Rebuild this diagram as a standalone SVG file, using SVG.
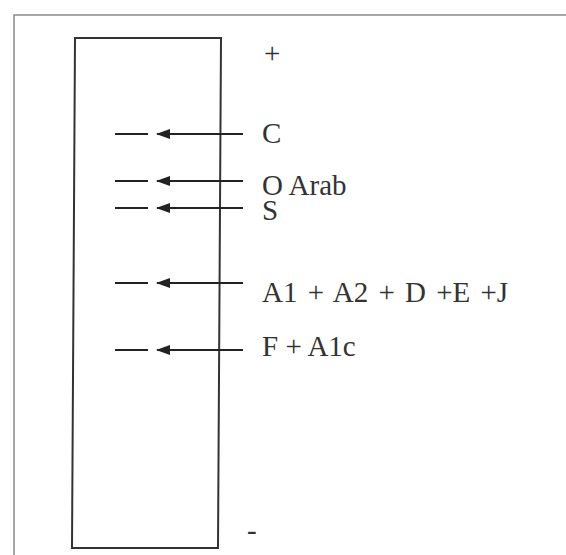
<svg xmlns="http://www.w3.org/2000/svg" width="566" height="555" viewBox="0 0 566 555">
<defs>
<style>
.frame{fill:none;stroke:#8a8a8a;stroke-width:1.5}
.box{fill:none;stroke:#333;stroke-width:2}
.ln{stroke:#222;stroke-width:2;fill:none}
.lbl{font-family:"Liberation Serif","Times New Roman",serif;font-size:29px;fill:#333}
</style>
<marker id="ah" viewBox="0 0 14 10" refX="13" refY="5" markerWidth="14" markerHeight="10" markerUnits="userSpaceOnUse" orient="auto">
<path d="M0,0 L14,5 L0,10 Z" fill="#222"/>
</marker>
</defs>
<rect width="566" height="555" fill="#fff"/>
<rect class="frame" x="14" y="15" width="600" height="600"/>
<g id="gel">
<polygon class="box" points="75,38 221,38 218,548 72,548"/>
</g>
<g id="connectors">
<line class="ln" x1="243" y1="134" x2="157" y2="134" marker-end="url(#ah)"/>
<line class="ln" x1="115" y1="134" x2="148" y2="134"/>
<line class="ln" x1="243" y1="181" x2="157" y2="181" marker-end="url(#ah)"/>
<line class="ln" x1="115" y1="181" x2="148" y2="181"/>
<line class="ln" x1="243" y1="208" x2="157" y2="208" marker-end="url(#ah)"/>
<line class="ln" x1="115" y1="208" x2="148" y2="208"/>
<line class="ln" x1="243" y1="283" x2="157" y2="283" marker-end="url(#ah)"/>
<line class="ln" x1="115" y1="283" x2="148" y2="283"/>
<line class="ln" x1="243" y1="350" x2="157" y2="350" marker-end="url(#ah)"/>
<line class="ln" x1="115" y1="350" x2="148" y2="350"/>
</g>
<g id="labels">
<text class="lbl" x="264" y="63" font-size="24">+</text>
<text class="lbl" x="262" y="143">C</text>
<text class="lbl" x="262" y="195">O Arab</text>
<text class="lbl" x="262" y="220">S</text>
<text class="lbl" x="262" y="302" word-spacing="3">A1 + A2 + D +E +J</text>
<text class="lbl" x="262" y="356">F + A1c</text>
<text class="lbl" x="247" y="540" font-size="20">-</text>
</g>
</svg>
